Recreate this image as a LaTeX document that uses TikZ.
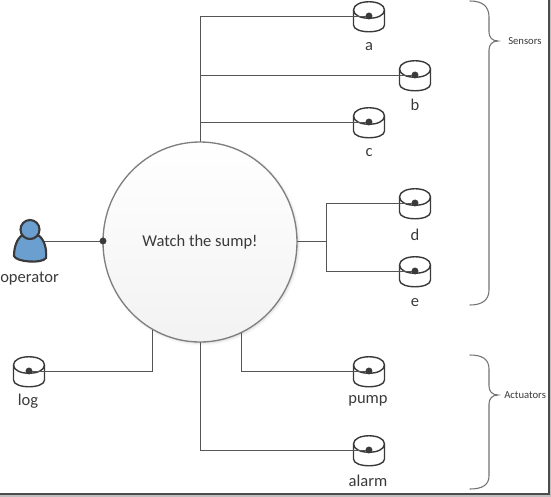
\documentclass[tikz,border=0pt]{standalone}
\usepackage{fontspec}
\setmainfont{Carlito}
\usetikzlibrary{shapes.geometric,shadows.blur}
\definecolor{ink}{HTML}{3A3A3A}
\definecolor{wire}{HTML}{555555}
\definecolor{rim}{HTML}{7F7F7F}
\definecolor{personblue}{HTML}{6A9FD0}
\tikzset{
  wireline/.style={draw=wire,line width=0.65pt},
  bracecurve/.style={draw=rim!90!black,line width=0.8pt,line cap=round},
  devlabel/.style={text=ink,font=\fontsize{12.4}{15}\selectfont,inner sep=0pt},
  sidelabel/.style={text=ink,font=\fontsize{8}{10}\selectfont,inner sep=0pt},
  dot/.style={circle,fill=ink,draw=none,minimum size=5.2pt,inner sep=0pt},
  pics/dev/.style={code={
    \path[draw=ink,line width=1.05pt,fill=white]
      (-15.5,-6) .. controls (-15.5,-17) and (15.5,-17) .. (15.5,-6)
      -- (15.5,9) .. controls (15.5,18) and (-15.5,18) .. (-15.5,9) -- cycle;
    \path[draw=ink,line width=1.05pt] (-15.5,-6) .. controls (-15.5,5) and (15.5,5) .. (15.5,-6);
  }}
}
\begin{document}
\begin{tikzpicture}[x=0.75pt,y=-0.75pt]
\useasboundingbox (0,0) rectangle (551,497);
% frame of the screenshot
\draw[draw=black!25,line width=1.5pt] (550.2,0) -- (550.2,496) -- (0,496);
\draw[draw=black!70,line width=1.3pt] (548.7,0) -- (548.7,494.2) -- (0,494.2);
% device positions
\coordinate (a) at (369,16);
\coordinate (b) at (415,75);
\coordinate (c) at (369,122);
\coordinate (d) at (415,203);
\coordinate (e) at (415,271);
\coordinate (log) at (29,371);
\coordinate (pump) at (369,371);
\coordinate (alarm) at (369,450);
\coordinate (centre) at (200,242);
\coordinate (top) at (200,142);
\coordinate (jb) at (200,75);
\coordinate (jc) at (200,122);
\coordinate (east) at (297,241);
\coordinate (jd) at (326,241);
\coordinate (jlog) at (152,325);
\coordinate (jpump) at (241,330);
\coordinate (jalarm) at (200,340);
\coordinate (west) at (103,241);
% devices
\foreach \n in {a,b,c,d,e,log,pump,alarm}{
  \pic at (\n) {dev};
}
% person
\coordinate (person) at (40,241);
\draw[wireline] (person) -- (west);
\path[draw=ink,line width=1.6pt,fill=personblue]
  (22,235) .. controls (17,239) and (14,247) .. (14,256)
  .. controls (16,262) and (42,264) .. (46,258)
  .. controls (47,248) and (44,239) .. (38,235)
  .. controls (33,240) and (27,240) .. (22,235) -- cycle;
\node[circle,draw=ink,line width=1.6pt,fill=personblue,minimum size=19*0.75pt,inner sep=0pt] (head) at (30,229.5) {};
% connectors
\draw[wireline] (top) |- (a);
\draw[wireline] (jb) -- (b);
\draw[wireline] (jc) -- (c);
\draw[wireline] (east) -- (jd);
\draw[wireline] (jd) |- (d);
\draw[wireline] (jd) |- (e);
\draw[wireline] (jlog) |- (log);
\draw[wireline] (jpump) |- (pump);
\draw[wireline] (jalarm) |- (alarm);
% main circle
\node[ellipse,draw=rim,line width=1pt,minimum width=194*0.75pt,minimum height=200*0.75pt,inner sep=0pt,
  top color=white,bottom color=black!5,blur shadow={shadow xshift=1pt,shadow yshift=-1pt,shadow blur steps=5,shadow opacity=15},
  text=ink,font=\fontsize{12.4}{15}\selectfont] (main) at (centre) {Watch the sump!};
\node[dot] (westdot) at (west) {};
\foreach \n in {a,b,c,d,e,log,pump,alarm}{
  \node[dot] (\n dot) at (\n) {};
}
% labels
\node[devlabel] (la) at (369,47) {a};
\node[devlabel] (lb) at (415,105) {b};
\node[devlabel] (lc) at (369,153) {c};
\node[devlabel] (ld) at (415,235) {d};
\node[devlabel] (le) at (415,303) {e};
\node[devlabel] (llog) at (28,401) {log};
\node[devlabel] (lpump) at (368,401) {pump};
\node[devlabel] (lalarm) at (368,481) {alarm};
\node[devlabel,anchor=west] (lop) at (0,279) {operator};
% braces
\coordinate (s1) at (470,1);
\coordinate (s2) at (470,305);
\coordinate (s3) at (498,41);
\coordinate (t1) at (470,355);
\coordinate (t2) at (470,489);
\coordinate (t3) at (498,395);
\draw[bracecurve] (s1) .. controls (482,1) and (489,6) .. (489,17) -- (489,32)
  .. controls (489,37) and (492,41) .. (s3)
  .. controls (492,41) and (489,45) .. (489,50) -- (489,290)
  .. controls (489,300) and (482,305) .. (s2);
\draw[bracecurve] (t1) .. controls (482,355) and (489,359) .. (489,369) -- (489,386)
  .. controls (489,391) and (492,395) .. (t3)
  .. controls (492,395) and (489,399) .. (489,404) -- (489,476)
  .. controls (489,485) and (482,489) .. (t2);
\node[sidelabel,anchor=west] (ls) at (508,41) {Sensors};
\node[sidelabel,anchor=west] (lt) at (504,395) {Actuators};
\end{tikzpicture}
\end{document}
